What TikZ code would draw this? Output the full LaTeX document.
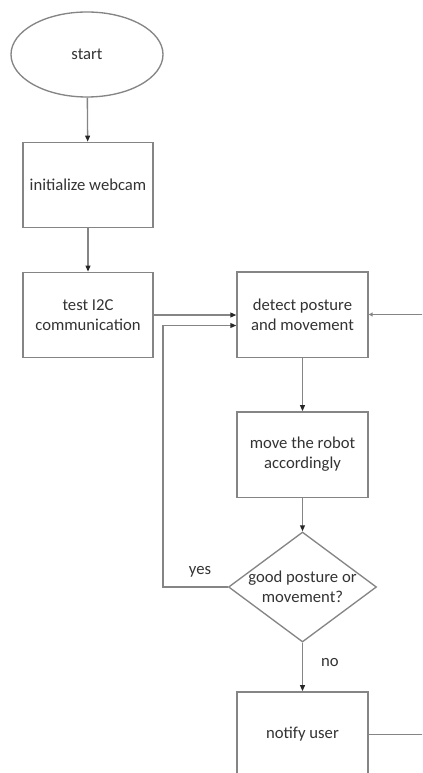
\documentclass[tikz,border=0pt]{standalone}
\usepackage{fontspec}
\setmainfont{Carlito}
\usetikzlibrary{shapes.geometric,arrows.meta}
\begin{document}
\begin{tikzpicture}[x=0.75pt,y=-0.75pt,
  ln/.style={draw=black!48, line width=1pt},
  arr/.style={ln, -{Triangle[length=4.5pt,width=3.6pt,color=black!85]}},
  openarr/.style={ln, -{Triangle[open,length=3pt,width=3pt]}},
  txt/.style={text=black!80, font=\fontsize{12.5}{15}\selectfont, align=center},
  box/.style={rectangle, ln, txt, inner sep=0pt, minimum width=97.5pt, minimum height=64pt},
  startnode/.style={ellipse, ln, txt, inner sep=0pt, minimum width=114pt, minimum height=63.75pt},
  decision/.style={diamond, ln, inner sep=0pt, minimum width=111pt, minimum height=82.5pt},
  lbl/.style={txt}
]
\fill[white] (0,0) rectangle (422,773);
\useasboundingbox (0,0) rectangle (422,773);
\clip (0,0) rectangle (422,773);

\node[startnode] (start) at (87,54.5) {start};
\node[box] (init) at (88,185) {initialize webcam};
\node[box] (test) at (88,315) {test I2C\\communication};
\node[box, minimum width=98.25pt] (detect) at (302.5,314.5) {detect posture\\and movement};
\node[box, minimum width=98.25pt] (move) at (302.5,454.5) {move the robot\\accordingly};
\node[decision] (dia) at (302.5,587) {};
\node[txt] (diatext) at (dia.center) {good posture or\\movement?};
\node[box, minimum width=98.25pt] (notify) at (302.5,734.5) {notify user};

\node[lbl] (yes) at (200,572) {yes};
\node[lbl] (no) at (330,663) {no};

\draw[arr] (start) -- (init);
\draw[arr] (init) -- (test);
\draw[arr] (test.east) -- (detect.west |- test.east);
\draw[arr] (detect) -- (move);
\draw[arr] (move) -- (dia.north);
\draw[arr] (dia.south) -- (notify);
\draw[arr] (dia.west) -- ++(-65,0) |- ([yshift=-8.25pt]detect.west);
\draw[openarr] (notify.east) -- ++(90,0) |- (detect.east);
\end{tikzpicture}
\end{document}
